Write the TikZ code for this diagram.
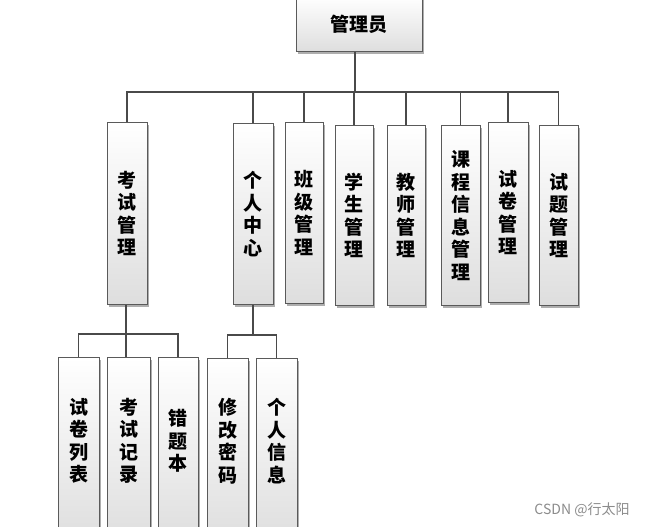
\documentclass[tikz,border=0pt]{standalone}
\usepackage{fontspec}
\newfontfamily\cjk{Noto Sans CJK SC}
\usetikzlibrary{shadows}
\definecolor{linec}{HTML}{4A4A4A}
\definecolor{boxline}{HTML}{5A5A5A}
\tikzset{
  box/.style={draw=boxline, line width=0.8pt, top color=white, bottom color=black!13,
    drop shadow={shadow xshift=2.2pt, shadow yshift=-2.2pt, fill=black!45, opacity=0.7},
    inner sep=0pt, align=center, anchor=north,
    font=\cjk\bfseries\fontsize{19}{22.5}\selectfont},
  lbl/.style={inner sep=0pt, align=center, font=\cjk\bfseries\fontsize{19}{22.5}\selectfont},
  conn/.style={draw=linec, line width=1.6pt},
  wm/.style={inner sep=0pt, text=black!45, font=\cjk\fontsize{14}{16}\selectfont}
}
\begin{document}
\begin{tikzpicture}[x=1pt,y=-1pt]
\useasboundingbox (0,0) rectangle (646,527);
\clip (0,0) rectangle (646,527);
\fill[white] (0,0) rectangle (646,527);
% root
\node[box, minimum width=126pt, minimum height=55pt] (root) at (359,-4) {管理员};
% second row
\node[box, minimum width=40pt, minimum height=182pt] (exam) at (127,122) {考\\试\\管\\理};
\node[box, minimum width=40pt, minimum height=181pt] (pers) at (253,123) {个\\人\\中\\心};
\node[box, minimum width=38pt, minimum height=181pt] (cls) at (304,122) {班\\级\\管\\理};
\node[box, minimum width=38pt, minimum height=180pt] (stu) at (354,125) {学\\生\\管\\理};
\node[box, minimum width=38pt, minimum height=180pt] (tea) at (406,125) {教\\师\\管\\理};
\node[box, minimum width=39pt, minimum height=180pt] (crs) at (460.5,125) {课\\程\\信\\息\\管\\理};
\node[box, minimum width=40pt, minimum height=180pt] (pap) at (508,122) {试\\卷\\管\\理};
\node[box, minimum width=39pt, minimum height=180pt] (que) at (558.5,125) {试\\题\\管\\理};
% third row boxes (cut off at bottom)
\node[box, minimum width=41pt, minimum height=185pt] (pl) at (78.5,357) {};
\node[box, minimum width=43pt, minimum height=185pt] (er) at (128.5,357) {};
\node[box, minimum width=40pt, minimum height=185pt] (wb) at (178,357) {};
\node[box, minimum width=41pt, minimum height=185pt] (pw) at (227.5,358) {};
\node[box, minimum width=41pt, minimum height=185pt] (pi) at (276.5,358) {};
\node[lbl] (plt) at (78.5,441) {试\\卷\\列\\表};
\node[lbl] (ert) at (128.5,441) {考\\试\\记\\录};
\node[lbl] (wbt) at (178,441) {错\\题\\本};
\node[lbl] (pwt) at (227.5,441) {修\\改\\密\\码};
\node[lbl] (pit) at (276.5,441) {个\\人\\信\\息};
% connectors
\coordinate (b1) at (355,92);
\draw[conn] (root.south -| b1) -- (b1);
\foreach \c in {exam,pers,cls,stu,tea,crs,pap,que}{
  \draw[conn] (b1) -| (\c.north);
}
\coordinate (b2) at (126,334);
\draw[conn] (exam.south -| b2) -- (b2);
\draw[conn] (b2) -| (pl.north);
\draw[conn] (b2) -| (wb.north);
\draw[conn] (b2) -- (b2 |- er.north);
\coordinate (b3) at (253,335);
\draw[conn] (pers.south) -- (b3);
\draw[conn] (b3) -| (pw.north);
\draw[conn] (b3) -| (pi.north);
% watermark
\node[wm] (wmk) at (582,510) {CSDN @行太阳};
\end{tikzpicture}
\end{document}
